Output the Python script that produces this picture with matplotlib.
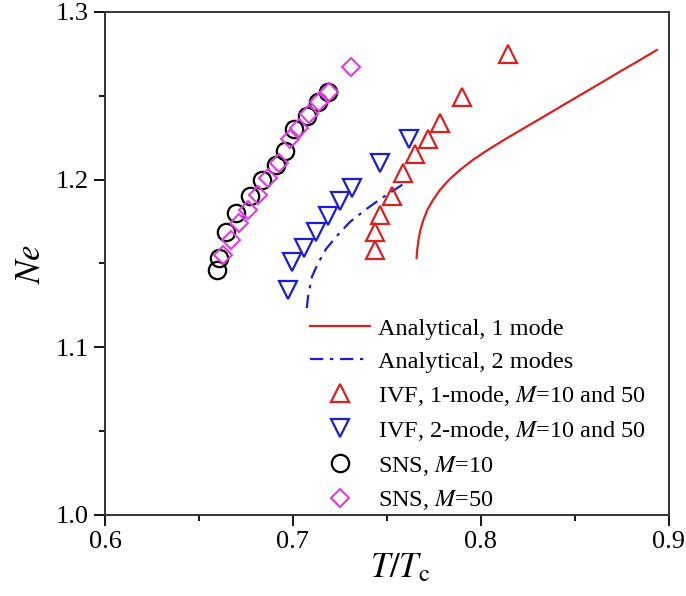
import matplotlib
matplotlib.use('Agg')
import matplotlib.pyplot as plt

plt.rcParams['font.family'] = ['Liberation Serif', 'DejaVu Serif']
plt.rcParams['mathtext.fontset'] = 'stix'

# analytical curves
an1_x = [0.7658, 0.7661, 0.7668, 0.7678, 0.7694, 0.7715, 0.7745, 0.7782, 0.7830,
         0.7888, 0.7957, 0.8037, 0.8122, 0.8213, 0.8303, 0.8394, 0.8484, 0.8574,
         0.8665, 0.8755, 0.8846, 0.8936]
an1_y = [1.1532, 1.1580, 1.1640, 1.1699, 1.1759, 1.1819, 1.1878, 1.1938, 1.1998,
         1.2057, 1.2117, 1.2177, 1.2236, 1.2296, 1.2355, 1.2415, 1.2475, 1.2534,
         1.2594, 1.2654, 1.2713, 1.2773]
an2_x = [0.7074, 0.7079, 0.7085, 0.7101, 0.7133, 0.7176, 0.7234, 0.7303, 0.7383,
         0.7473, 0.7569, 0.7606]
an2_y = [1.1234, 1.1290, 1.1330, 1.1420, 1.1500, 1.1586, 1.1664, 1.1747, 1.1818,
         1.1890, 1.1960, 1.1986]

# IVF results
ivf1_x = [0.7436, 0.7436, 0.7463, 0.7527, 0.7585, 0.7649, 0.7718, 0.7782, 0.7899, 0.8144]
ivf1_y = [1.158, 1.169, 1.179, 1.190, 1.204, 1.215, 1.224, 1.234, 1.249, 1.275]
ivf2_x = [0.6973, 0.6995, 0.7059, 0.7122, 0.7186, 0.7250, 0.7314, 0.7463, 0.7617]
ivf2_y = [1.134, 1.151, 1.159, 1.169, 1.178, 1.187, 1.195, 1.210, 1.224]

# SNS results
sns10_x = [0.6596, 0.6606, 0.6644, 0.6697, 0.6771, 0.6835, 0.6910, 0.6957, 0.7005,
           0.7074, 0.7133, 0.7186]
sns10_y = [1.146, 1.153, 1.169, 1.180, 1.190, 1.200, 1.209, 1.217, 1.230, 1.238,
           1.246, 1.252]
sns50_x = [0.6628, 0.6670, 0.6713, 0.6761, 0.6814, 0.6867, 0.6926, 0.6984, 0.7032,
           0.7085, 0.7138, 0.7191, 0.7309]
sns50_y = [1.155, 1.164, 1.174, 1.182, 1.191, 1.201, 1.210, 1.224, 1.231, 1.239,
           1.246, 1.252, 1.267]

red = '#dd1f1f'
blue = '#1c1cd0'
magenta = '#e03ce0'

fig = plt.figure(figsize=(6.86, 5.96), dpi=100)
ax = fig.add_axes([0.153, 0.136, 0.822, 0.844])

ax.plot(an1_x, an1_y, color=red, lw=1.6, label='Analytical, 1 mode')
ax.plot(an2_x, an2_y, color=blue, lw=1.6, ls=(0, (6, 3, 1.5, 3)), label='Analytical, 2 modes')
ax.plot(ivf1_x, ivf1_y, ls='none', marker='^', ms=13, mfc='none', mec=red, mew=1.6,
        label='IVF, 1-mode, $M$=10 and 50')
ax.plot(ivf2_x, ivf2_y, ls='none', marker='v', ms=13, mfc='none', mec=blue, mew=1.6,
        label='IVF, 2-mode, $M$=10 and 50')
ax.plot(sns10_x, sns10_y, ls='none', marker='o', ms=12.5, mfc='none', mec='black', mew=1.6,
        label='SNS, $M$=10')
ax.plot(sns50_x, sns50_y, ls='none', marker='D', ms=9.5, mfc='none', mec=magenta, mew=1.5,
        label='SNS, $M$=50')

ax.set_xlim(0.6, 0.9)
ax.set_ylim(1.0, 1.3)
ax.set_xticks([0.6, 0.7, 0.8, 0.9])
ax.set_yticks([1.0, 1.1, 1.2, 1.3])
ax.set_xticks([0.65, 0.75, 0.85], minor=True)
ax.set_yticks([1.05, 1.15, 1.25], minor=True)
ax.tick_params(which='major', direction='out', length=8, width=1.3, labelsize=19,
               top=False, right=False)
ax.tick_params(which='minor', direction='out', length=4, width=1.3, top=False, right=False)
for s in ax.spines.values():
    s.set_linewidth(1.4)
    s.set_color('#333333')

ax.set_xlabel('$T/T_{\\rm c}$', fontsize=25)
ax.xaxis.set_label_coords(0.523, -0.075)
ax.set_ylabel('$Ne$', fontsize=25, labelpad=6)

ax.legend(loc='upper left', bbox_to_anchor=(0.363, 0.392), frameon=False, fontsize=17.5,
          borderpad=0, borderaxespad=0, handlelength=2.5, handletextpad=0.3,
          labelspacing=0.45)

fig.savefig('out.png', dpi=100)
